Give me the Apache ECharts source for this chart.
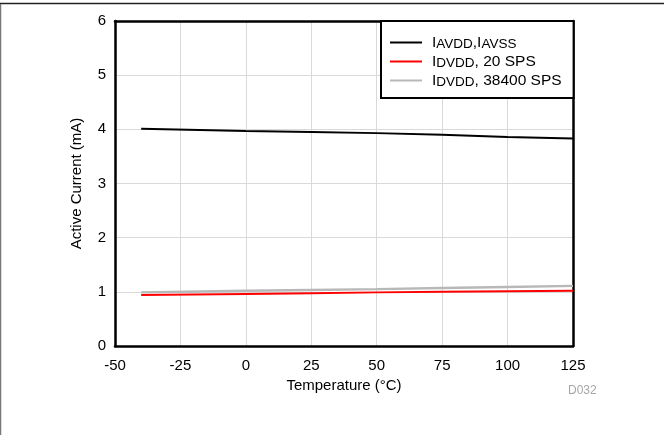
<!DOCTYPE html>
<html><head><meta charset="utf-8">
<script src="https://cdn.jsdelivr.net/npm/echarts@6/dist/echarts.min.js"></script>
<style>html,body{margin:0;padding:0;background:#fff}#c{width:664px;height:435px}</style>
</head><body><div id="c"></div>
<script>
const temps = [-40, 0, 25, 50, 75, 100, 125];
const iavdd = [4.01, 3.97, 3.95, 3.93, 3.90, 3.86, 3.83];
const idvdd20 = [0.94, 0.96, 0.975, 0.99, 1.0, 1.01, 1.02];
const idvdd38400 = [0.99, 1.02, 1.035, 1.05, 1.07, 1.09, 1.11];
const xTicks = [-50, -25, 0, 25, 50, 75, 100, 125];
const yTicks = [0, 1, 2, 3, 4, 5, 6];
const seriesNames = ['IAVDD,IAVSS', 'IDVDD, 20 SPS', 'IDVDD, 38400 SPS'];

const font = 'Liberation Sans, Arial, sans-serif';
const chart = echarts.init(document.getElementById('c'));
const pair = (xs, ys) => xs.map((x, i) => [x, ys[i]]);
const legendText = {
  'IAVDD,IAVSS': '{f|I}{s|AVDD}{m|,I}{s|AVSS}',
  'IDVDD, 20 SPS': '{f|I}{s|DVDD}{m|, 20 SPS}',
  'IDVDD, 38400 SPS': '{f|I}{s|DVDD}{m|, 38400 SPS}'
};
const borderAxis = {axisLine: {show: true, onZero: false, lineStyle: {color: '#000', width: 2.5}}, axisTick: {show: false}, axisLabel: {show: false}, splitLine: {show: false}};
chart.setOption({
  animation: false,
  grid: {left: 115, right: 91, top: 21, bottom: 89},
  xAxis: [{
    type: 'value', min: xTicks[0], max: xTicks[xTicks.length - 1], interval: 25,
    name: 'Temperature (°C)', nameLocation: 'middle', nameGap: 30,
    nameTextStyle: {fontFamily: font, fontSize: 15, color: '#000'},
    axisLine: {show: true, onZero: false, lineStyle: {color: '#000', width: 2.5}}, axisTick: {show: false},
    axisLabel: {fontFamily: font, fontSize: 15, color: '#000', margin: 12},
    splitLine: {show: true, lineStyle: {color: '#d9d9d9', width: 1}}
  }, Object.assign({type: 'value', position: 'top', min: xTicks[0], max: xTicks[xTicks.length - 1]}, borderAxis)],
  yAxis: [{
    type: 'value', min: yTicks[0], max: yTicks[yTicks.length - 1], interval: 1,
    name: 'Active Current (mA)', nameLocation: 'middle', nameGap: 31,
    nameTextStyle: {fontFamily: font, fontSize: 15, color: '#000'},
    axisLine: {show: true, onZero: false, lineStyle: {color: '#000', width: 2.5}}, axisTick: {show: false},
    axisLabel: {fontFamily: font, fontSize: 15, color: '#000', margin: 9},
    splitLine: {show: true, lineStyle: {color: '#d9d9d9', width: 1}}
  }, Object.assign({type: 'value', position: 'right', min: yTicks[0], max: yTicks[yTicks.length - 1]}, borderAxis)],
  legend: {
    left: 381, top: 21, orient: 'vertical',
    backgroundColor: '#fff', borderColor: '#000', borderWidth: 2,
    padding: [12, 12, 9, 9], itemGap: 1, itemWidth: 32, itemHeight: 16,
    data: seriesNames.map(n => ({name: n, icon: 'path://M0,7 L32,7 L32,9 L0,9 Z'})),
    formatter: n => legendText[n],
    textStyle: {
      fontFamily: font, color: '#000',
      rich: {
        f: {fontFamily: font, fontSize: 15.5, color: '#000', verticalAlign: 'bottom', lineHeight: 17, padding: [0, 0, 0, 5]},
        m: {fontFamily: font, fontSize: 15.5, color: '#000', verticalAlign: 'bottom', lineHeight: 17},
        s: {fontFamily: font, fontSize: 13.5, color: '#000', verticalAlign: 'bottom', lineHeight: 13, padding: [4, 0, 0, 0]}
      }
    }
  },
  graphic: [
    {type: 'line', shape: {x1: 0, y1: 3.5, x2: 664, y2: 3.5}, style: {stroke: '#222', lineWidth: 1.5}},
    {type: 'line', shape: {x1: 0.5, y1: 4, x2: 0.5, y2: 435}, style: {stroke: '#777', lineWidth: 1.5}},
    {type: 'text', left: 568, top: 385, style: {text: 'D032', fontFamily: font, fontSize: 12, fill: '#a6a6a6'}}
  ],
  series: [
    {name: seriesNames[0], type: 'line', data: pair(temps, iavdd), showSymbol: false, lineStyle: {color: '#000', width: 2}, itemStyle: {color: '#000'}, z: 3},
    {name: seriesNames[1], type: 'line', data: pair(temps, idvdd20), showSymbol: false, lineStyle: {color: '#ff0000', width: 2}, itemStyle: {color: '#ff0000'}, z: 3},
    {name: seriesNames[2], type: 'line', data: pair(temps, idvdd38400), showSymbol: false, lineStyle: {color: '#b8b8b8', width: 2.5}, itemStyle: {color: '#b8b8b8'}, z: 2}
  ]
});
</script></body></html>
